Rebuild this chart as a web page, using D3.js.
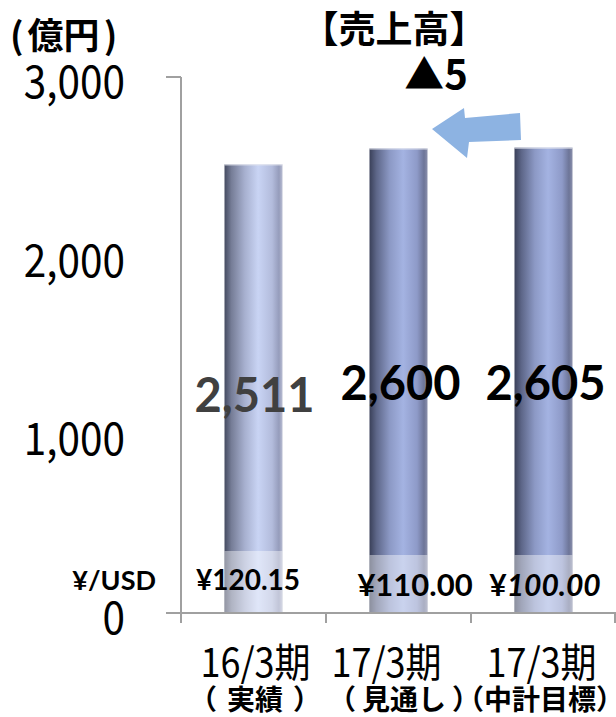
<!DOCTYPE html>
<html>
<head>
<meta charset="utf-8">
<script src="https://cdn.jsdelivr.net/npm/d3@7"></script>
<style>
  html, body { margin: 0; padding: 0; background: #fff; }
  svg { display: block; }
</style>
</head>
<body>
<svg id="chart" width="616" height="717"></svg>
<script>
// Sales (億円) by fiscal period, with the assumed yen/dollar rate
const periods = ["16/3期", "17/3期", "17/3期"];
const periodNotes = ["実績", "見通し", "中計目標"];
const sales = [2511, 2600, 2605];
const salesLabels = ["2,511", "2,600", "2,605"];
const fxRates = ["120.15", "110.00", "100.00"];
const yTicks = [0, 1000, 2000, 3000];
const yTickLabels = ["0", "1,000", "2,000", "3,000"];
const changeLabel = "5";

const svg = d3.select("#chart");
const W = 616, H = 717;
const plot = { left: 181, right: 616, top: 77, bottom: 613 };

const x = d3.scaleBand().domain(d3.range(periods.length))
  .range([plot.left, plot.left + 145 * periods.length]).paddingInner(0.6).paddingOuter(0.3);
const y = d3.scaleLinear().domain([0, 3000]).range([plot.bottom, plot.top]);
const cx = i => x(i) + x.bandwidth() / 2;

const defs = svg.append("defs");
function cylinder(id, stops) {
  const g = defs.append("linearGradient").attr("id", id)
    .attr("x1", "0%").attr("x2", "100%").attr("y1", "0%").attr("y2", "0%");
  stops.forEach(([o, c]) => g.append("stop").attr("offset", o).attr("stop-color", c));
}
cylinder("barLight", [[0, "#454b61"], [0.12, "#767d97"], [0.35, "#a7b0cf"], [0.58, "#c9d4f4"], [0.82, "#b3bcdc"], [0.94, "#959cbb"], [1, "#b9bdd2"]]);
cylinder("barDark", [[0, "#3a4059"], [0.12, "#5d6688"], [0.35, "#8c99c5"], [0.58, "#a4b3e2"], [0.82, "#8e9ac8"], [0.94, "#6d7598"], [1, "#8a8fab"]]);

// Bars
const bars = svg.append("g");
bars.selectAll("rect").data(sales).join("rect")
  .attr("x", (d, i) => x(i))
  .attr("y", d => y(d))
  .attr("width", x.bandwidth())
  .attr("height", d => y(0) - y(d))
  .attr("fill", (d, i) => i === 0 ? "url(#barLight)" : "url(#barDark)");
bars.selectAll("line").data(sales).join("line")
  .attr("x1", (d, i) => x(i)).attr("x2", (d, i) => x(i) + x.bandwidth())
  .attr("y1", d => y(d) + 0.5).attr("y2", d => y(d) + 0.5)
  .attr("stroke", "#e4e6ee").attr("stroke-width", 1);

// Translucent panel behind the exchange-rate row
const panelTop = [551, 555, 555];
svg.append("g").selectAll("rect").data(sales).join("rect")
  .attr("x", (d, i) => x(i)).attr("width", x.bandwidth())
  .attr("y", (d, i) => panelTop[i]).attr("height", (d, i) => y(0) - panelTop[i])
  .attr("fill", "#ffffff").attr("opacity", 0.42);

// Axes
const axisColor = "#a0a0a0";
svg.append("line").attr("x1", plot.left).attr("x2", plot.left)
  .attr("y1", y(3000)).attr("y2", y(0) + 10).attr("stroke", axisColor).attr("stroke-width", 2);
svg.append("line").attr("x1", plot.left - 15).attr("x2", plot.left)
  .attr("y1", y(3000)).attr("y2", y(3000)).attr("stroke", axisColor).attr("stroke-width", 2);
svg.append("line").attr("x1", plot.left - 15).attr("x2", plot.right)
  .attr("y1", y(0)).attr("y2", y(0)).attr("stroke", axisColor).attr("stroke-width", 2);
const boundaries = d3.range(1, periods.length + 1).map(i => plot.left + i * x.step());
svg.append("g").selectAll("line").data(boundaries).join("line")
  .attr("x1", d => Math.min(d, W - 1)).attr("x2", d => Math.min(d, W - 1))
  .attr("y1", y(0)).attr("y2", y(0) + 10).attr("stroke", axisColor).attr("stroke-width", 2);

// Y tick labels (slightly condensed)
svg.append("g").selectAll("text").data(yTicks).join("text")
  .attr("transform", d => `translate(125,${y(d) + 1}) scale(0.9,1)`)
  .attr("text-anchor", "end").attr("dominant-baseline", "central")
  .attr("font-family", "'Noto Sans CJK JP', sans-serif")
  .attr("font-size", 45).attr("fill", "#000")
  .text((d, i) => yTickLabels[i]);

// Bracketed text with a little air inside the parentheses
function bracketed(sel, open, inner, close, gap) {
  sel.append("tspan").text(open);
  sel.append("tspan").attr("dx", gap).text(inner);
  sel.append("tspan").attr("dx", gap).text(close);
}

// Unit
const unit = svg.append("text").attr("x", 10).attr("y", 33)
  .attr("dominant-baseline", "central")
  .attr("font-family", "'Noto Sans CJK JP', sans-serif").attr("font-weight", 700)
  .attr("font-size", 36);
bracketed(unit, "(", "億円", ")", 4);

// Title and change marker
svg.append("text").attr("x", 394).attr("y", 27).attr("text-anchor", "middle")
  .attr("dominant-baseline", "central")
  .attr("font-family", "'Noto Sans CJK JP', sans-serif").attr("font-weight", 700)
  .attr("font-size", 37).text("【売上高】");
svg.append("text").attr("x", 436).attr("y", 72).attr("text-anchor", "middle")
  .attr("dominant-baseline", "central")
  .attr("font-family", "'Noto Sans CJK JP', sans-serif").attr("font-weight", 700)
  .attr("font-size", 40)
  .text("▲" + changeLabel);

// Arrow from the mid-term target toward the forecast
svg.append("path")
  .attr("d", "M432,129 L464,108 L465,118 L520,113 L521,140 L469,142 L467,158 Z")
  .attr("fill", "#8db3e2");

// Value labels
const valueBaseline = [412, 400, 400];
svg.append("g").selectAll("text").data(sales).join("text")
  .attr("x", (d, i) => cx(i) + (i === 0 ? 1 : 2))
  .attr("y", (d, i) => valueBaseline[i])
  .attr("text-anchor", "middle")
  .attr("font-family", "Lato, sans-serif").attr("font-weight", 700)
  .attr("font-size", 47)
  .attr("fill", (d, i) => i === 0 ? "#404040" : "#000")
  .text((d, i) => salesLabels[i]);

// Exchange-rate row
svg.append("text").attr("x", 156).attr("y", 590).attr("text-anchor", "end")
  .attr("font-family", "Lato, sans-serif").attr("font-weight", 700)
  .attr("font-size", 27).text("¥/USD");
const fxX = [248, 415, 545], fxY = [590, 596, 596], fxSize = [28, 31, 30];
const fx = svg.append("g").selectAll("text").data(fxRates).join("text")
  .attr("x", (d, i) => fxX[i]).attr("y", (d, i) => fxY[i])
  .attr("text-anchor", "middle")
  .attr("font-family", "Lato, sans-serif").attr("font-weight", 700)
  .attr("font-size", (d, i) => fxSize[i]);
fx.append("tspan").text("¥");
fx.append("tspan").attr("font-style", (d, i) => i === 2 ? "italic" : "normal").text(d => d);

// Category labels
const line1Dx = [2, -12, -2];
const noteCenter = [255, 404, 540], noteGap = [10, 6, 0];
const cat = svg.append("g").selectAll("g").data(periods).join("g");
cat.append("text")
  .attr("transform", (d, i) => `translate(${cx(i) + line1Dx[i]},660) scale(0.9,1)`)
  .attr("text-anchor", "middle").attr("dominant-baseline", "central")
  .attr("font-family", "'Noto Sans CJK JP', sans-serif")
  .attr("font-size", 40).text(d => d);
cat.append("text")
  .attr("x", (d, i) => noteCenter[i])
  .attr("y", 698).attr("text-anchor", "middle").attr("dominant-baseline", "central")
  .attr("font-family", "'Noto Sans CJK JP', sans-serif").attr("font-weight", 700)
  .attr("font-size", 28)
  .each(function(d, i) { bracketed(d3.select(this), "（", periodNotes[i], "）", noteGap[i]); });
</script>
</body>
</html>
